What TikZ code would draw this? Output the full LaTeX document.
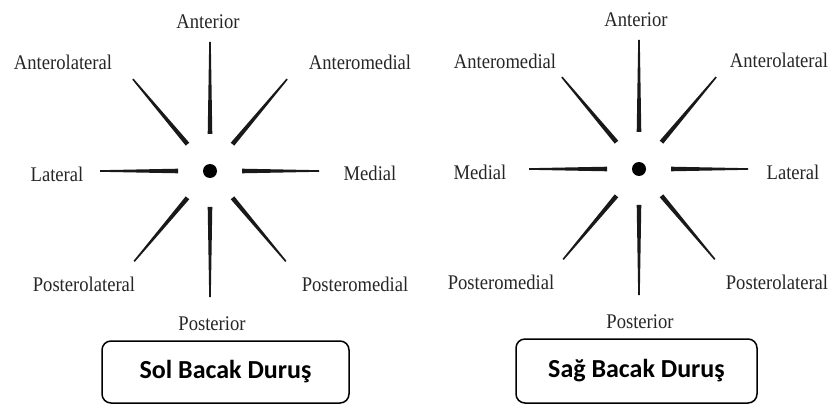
\documentclass[tikz,border=0pt]{standalone}
\usepackage{fontspec}
\setmainfont{Liberation Serif}
\newfontfamily\boxfont{Carlito}
\usetikzlibrary{calc}
\tikzset{
  lbl/.style={
    font=\fontsize{18.6}{20}\selectfont,
    text=black!85,
    inner sep=0pt,
    yscale=1.12,
  },
  hub/.style={
    circle,
    fill=black,
    inner sep=0pt,
    minimum size=14pt,
  },
  spoke/.style={fill=black!90},
  standbox/.style={
    draw=black,
    line width=1.5pt,
    rounded corners=9pt,
    font=\boxfont\bfseries\fontsize{26}{28}\selectfont,
  },
}
\begin{document}
\begin{tikzpicture}[x=1pt, y=1pt]
\useasboundingbox (0,0) rectangle (831,405);

% --- Centres ---
\node[hub] (ldot) at (210,234) {};
\node[hub] (rdot) at (639,236) {};

% --- Spokes (thick at the centre, thin outside) ---
\foreach \c in {ldot, rdot}
  \foreach \ang/\ri/\ro in {90/37/129, 270/36/126, 180/32/110, 0/32/109,
                            130/35/120, 50/35/120, 230/35/118, 310/35/118}
    \fill[spoke] ($(\c)+(\ang:\ri)+(\ang+90:2.3)$) -- ($(\c)+(\ang:\ro)+(\ang+90:0.8)$)
      -- ($(\c)+(\ang:\ro)+(\ang-90:0.8)$) -- ($(\c)+(\ang:\ri)+(\ang-90:2.3)$) -- cycle;

% --- Left leg labels ---
\node[lbl] (lant) at (208,383) {Anterior};
\node[lbl] (lantlat) at (63,343) {Anterolateral};
\node[lbl] (lantmed) at (360,343) {Anteromedial};
\node[lbl] (llat) at (57,231) {Lateral};
\node[lbl] (lmed) at (370,232) {Medial};
\node[lbl] (lpostlat) at (84,121) {Posterolateral};
\node[lbl] (lpostmed) at (355,121) {Posteromedial};
\node[lbl] (lpost) at (212,81) {Posterior};

% --- Right leg labels ---
\node[lbl] (rant) at (636,385) {Anterior};
\node[lbl] (rantmed) at (505,344) {Anteromedial};
\node[lbl] (rantlat) at (779,345) {Anterolateral};
\node[lbl] (rmed) at (480,233) {Medial};
\node[lbl] (rlat) at (793,233) {Lateral};
\node[lbl] (rpostmed) at (501,123) {Posteromedial};
\node[lbl] (rpostlat) at (777,123) {Posterolateral};
\node[lbl] (rpost) at (640,83) {Posterior};

% --- Captions ---
\node[standbox, minimum width=247pt, minimum height=62pt] (lbox) at (225.5,33) {Sol Bacak Duruş};
\node[standbox, minimum width=241pt, minimum height=64pt] (rbox) at (636.5,34) {Sağ Bacak Duruş};

\end{tikzpicture}
\end{document}
